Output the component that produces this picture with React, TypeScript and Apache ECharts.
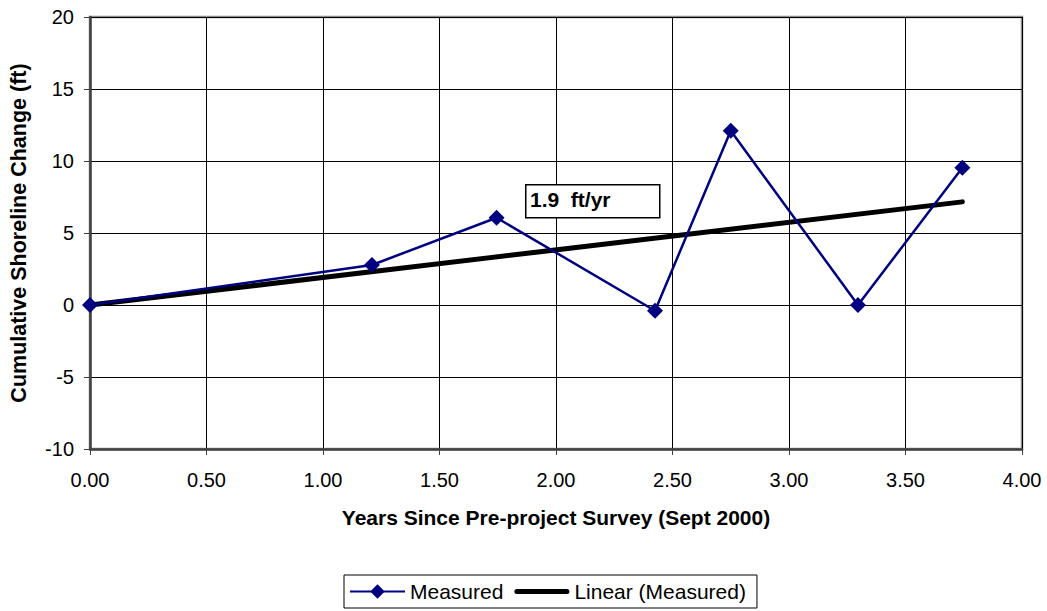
import React, { useEffect, useRef } from "react";
import * as echarts from "echarts";

const years = [0, 1.21, 1.745, 2.425, 2.75, 3.296, 3.744];
const change = [0, 2.78, 6.06, -0.4, 12.1, 0, 9.53];
const xTicks = { min: 0, max: 4, interval: 0.5 };
const yTicks = { min: -10, max: 20, interval: 5 };
const rateLabel = "1.9  ft/yr";

// Excel linear trendline with intercept fixed at 0
const sxy = years.reduce((s, x, i) => s + x * change[i], 0);
const sxx = years.reduce((s, x) => s + x * x, 0);
const slope = sxy / sxx;
const trend = [
  [years[0], slope * years[0]],
  [years[years.length - 1], slope * years[years.length - 1]],
];

const FONT = "'Liberation Sans', Arial, sans-serif";

export default function App() {
  const ref = useRef<HTMLDivElement>(null);
  useEffect(() => {
    const chart = echarts.init(ref.current!, null, { renderer: "svg" });
    chart.setOption({
      animation: false,
      backgroundColor: "#ffffff",
      textStyle: { fontFamily: FONT },
      grid: {
        left: 90,
        right: 25,
        top: 17,
        bottom: 162,
        show: true,
        borderColor: "#8c8c8c",
        borderWidth: 2.5,
        backgroundColor: "transparent",
      },
      xAxis: {
        type: "value",
        min: xTicks.min,
        max: xTicks.max,
        interval: xTicks.interval,
        name: "Years Since Pre-project Survey (Sept 2000)",
        nameLocation: "middle",
        nameGap: 58,
        nameTextStyle: { fontSize: 21, fontWeight: "bold", color: "#000", fontFamily: FONT },
        axisLine: { show: true, onZero: false, lineStyle: { color: "#404040", width: 2.5 } },
        axisTick: { show: true, length: 6, lineStyle: { color: "#404040", width: 1 } },
        axisLabel: {
          fontSize: 20,
          color: "#000",
          margin: 21,
          fontFamily: FONT,
          formatter: (v: number) => v.toFixed(2),
        },
        splitLine: { show: true, lineStyle: { color: "#000", width: 1 } },
      },
      yAxis: {
        type: "value",
        min: yTicks.min,
        max: yTicks.max,
        interval: yTicks.interval,
        name: "Cumulative Shoreline Change (ft)",
        nameLocation: "middle",
        nameGap: 60,
        nameTextStyle: { fontSize: 21.5, fontWeight: "bold", color: "#000", fontFamily: FONT },
        axisLine: { show: true, onZero: false, lineStyle: { color: "#404040", width: 2.5 } },
        axisTick: { show: true, length: 6, lineStyle: { color: "#404040", width: 1 } },
        axisLabel: { fontSize: 20, color: "#000", margin: 16, fontFamily: FONT },
        splitLine: { show: true, lineStyle: { color: "#000", width: 1 } },
      },
      legend: {
        left: 344,
        top: 575,
        padding: [6, 11, 6, 5],
        itemGap: 11,
        itemWidth: 55,
        itemHeight: 18,
        borderColor: "#000",
        borderWidth: 1,
        textStyle: { fontSize: 21, color: "#000", fontFamily: FONT },
        data: [
          { name: "Measured" },
          {
            name: "Linear (Measured)",
            icon: "path://M2.5,0 H52.5 A2.5,2.5 0 0 1 52.5,5 H2.5 A2.5,2.5 0 0 1 2.5,0 Z",
            itemStyle: { color: "#000" },
          },
        ],
      },
      series: [
        {
          name: "Measured",
          type: "line",
          data: years.map((x, i) => [x, change[i]]),
          symbol: "diamond",
          symbolSize: 16,
          itemStyle: { color: "#000080" },
          lineStyle: { color: "#000080", width: 2.5 },
          z: 3,
        },
        {
          name: "Linear (Measured)",
          type: "line",
          data: trend,
          symbol: "none",
          itemStyle: { color: "#000" },
          lineStyle: { color: "#000", width: 5, cap: "round" },
          z: 2,
        },
      ],
      graphic: [
        {
          type: "rect",
          left: 525,
          top: 184,
          shape: { width: 134, height: 33 },
          style: { fill: "#fff", stroke: "#000", lineWidth: 1.5 },
          z: 10,
        },
        {
          type: "text",
          left: 530,
          top: 189,
          style: { text: rateLabel, font: `bold 21px ${FONT}`, fill: "#000" },
          z: 11,
        },
      ],
    });
    return () => chart.dispose();
  }, []);
  return <div ref={ref} style={{ width: 1047, height: 611, position: "absolute", left: 0, top: 0 }} />;
}
